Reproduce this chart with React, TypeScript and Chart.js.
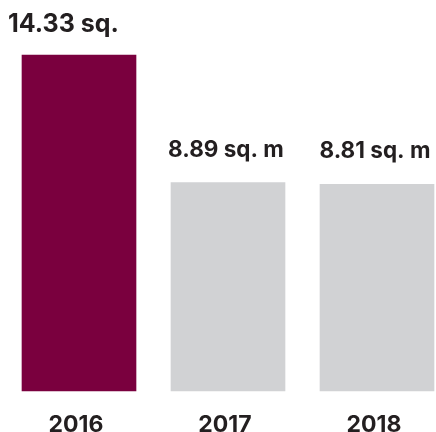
import React, { useEffect, useRef } from "react";
import { Chart, registerables } from "chart.js";

Chart.register(...registerables);

const years = ["2016", "2017", "2018"];
const values = [14.33, 8.89, 8.81];
const valueLabels = ["14.33 sq.", "8.89 sq. m", "8.81 sq. m"];
const barColors = ["#7A003E", "#D1D2D4", "#D1D2D4"];

const TEXT = "#231F20";
const FONT = "Inter, 'Open Sans', sans-serif";

const labelPlugin = {
  id: "labels",
  afterDatasetsDraw(chart: any) {
    const ctx = chart.ctx;
    const meta = chart.getDatasetMeta(0);
    ctx.save();
    ctx.fillStyle = TEXT;
    ctx.textBaseline = "alphabetic";
    meta.data.forEach((bar: any, i: number) => {
      if (i === 0) {
        ctx.font = `700 25px ${FONT}`;
        ctx.textAlign = "left";
        ctx.fillText(valueLabels[i], 8, bar.y - 23);
      } else {
        ctx.font = `700 22.5px ${FONT}`;
        ctx.textAlign = "center";
        ctx.fillText(valueLabels[i], bar.x - 2, bar.y - 26);
      }
      ctx.font = `700 23px ${FONT}`;
      ctx.textAlign = "center";
      ctx.fillText(years[i], bar.x - 3, 431.5);
    });
    ctx.restore();
  },
};

export default function App() {
  const ref = useRef<HTMLCanvasElement>(null);
  useEffect(() => {
    document.body.style.margin = "0";
    const chart = new Chart(ref.current!, {
      type: "bar",
      data: {
        labels: years,
        datasets: [
          {
            data: values,
            backgroundColor: barColors,
            borderWidth: 0,
            barThickness: 114,
            clip: false,
          },
        ],
      },
      options: {
        responsive: false,
        animation: false,
        layout: { padding: { left: 79, right: 59, top: 55, bottom: 41 } },
        plugins: { legend: { display: false }, tooltip: { enabled: false } },
        scales: {
          x: { display: false, offset: false },
          y: { display: false, min: 0, max: 14.33 },
        },
      },
      plugins: [labelPlugin],
    });
    return () => chart.destroy();
  }, []);
  return (
    <div style={{ width: 436, height: 432 }}>
      <canvas ref={ref} width={436} height={432} style={{ display: "block" }} />
    </div>
  );
}
